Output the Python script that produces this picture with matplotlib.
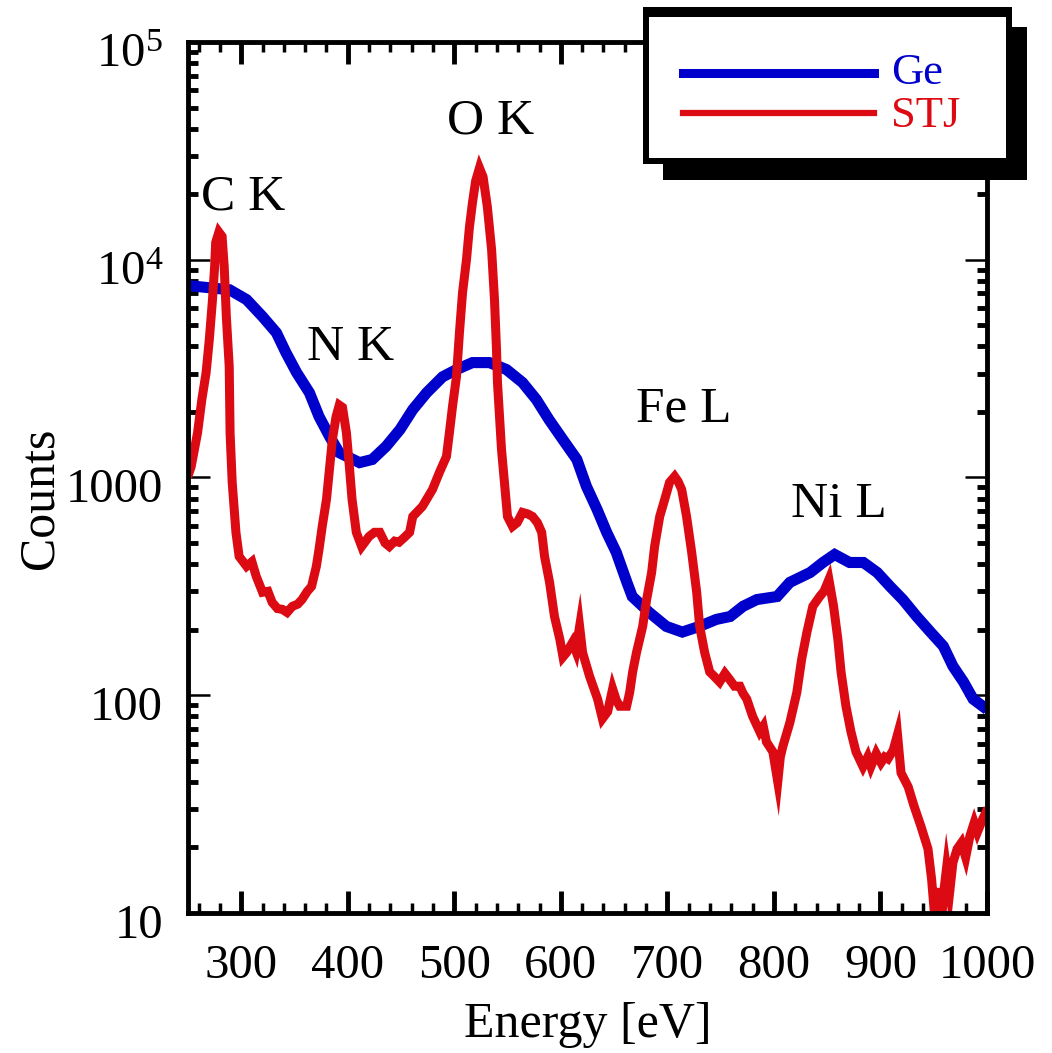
import numpy as np
import matplotlib
matplotlib.use("Agg")
import matplotlib.pyplot as plt
from matplotlib.patches import Rectangle
from matplotlib.lines import Line2D
from matplotlib.ticker import LogLocator, MultipleLocator, NullFormatter
import matplotlib.transforms as mtransforms

plt.rcParams["font.family"] = ["Liberation Serif", "DejaVu Serif"]
plt.rcParams["mathtext.fontset"] = "custom"
plt.rcParams["mathtext.rm"] = "Liberation Serif"

# Ge detector spectrum
ge_energy = [251, 289, 305, 320, 333, 342, 352, 364, 373, 383, 392, 411, 423, 436,
             449, 461, 474, 489, 502, 517, 533, 549, 564, 577, 589, 602, 615, 624,
             634, 643, 652, 662, 667, 683, 699, 714, 730, 746, 759, 771, 784, 803,
             815, 834, 846, 857, 871, 884, 897, 909, 921, 934, 947, 959, 968, 978,
             987, 996]
ge_counts = [7600, 7280, 6560, 5480, 4620, 3740, 3030, 2450, 1905, 1540, 1300, 1170,
             1210, 1390, 1660, 2050, 2450, 2900, 3130, 3370, 3370, 3130, 2730, 2280,
             1840, 1490, 1210, 910, 713, 560, 453, 330, 284, 240, 207, 195, 207, 223,
             230, 256, 275, 284, 330, 366, 407, 443, 407, 407, 366, 316, 275, 230,
             195, 168, 136, 115, 96, 89]

# STJ detector spectrum
stj_energy = [251, 253, 259, 263, 267, 270, 273, 275, 276, 279, 282, 284, 286, 288.7,
              289.5, 291.5, 295, 298, 305, 310, 314, 320, 325, 329, 334, 338.5, 343,
              348, 353, 357, 362, 366, 370.5, 373, 376, 380, 383, 385.5, 389, 392,
              395, 398.7, 401.5, 404, 408, 413, 420, 425, 430, 435, 439, 444, 448,
              453, 458, 461, 470, 479.5, 486, 492.6, 495.4, 498.3, 502, 504.8, 507.7,
              511.4, 514.2, 517, 520, 523.6, 527, 531, 535, 537.7, 539.6, 540.5,
              542.4, 544.3, 547.1, 549.9, 554.6, 559, 564, 569, 573.4, 578, 582,
              584.7, 589.4, 594, 599, 602, 605.4, 611, 614, 617.6, 620.4, 627, 634.5,
              639, 643.9, 648.6, 652, 655.2, 661.7, 664.6, 667.4, 671, 676.8, 680.5,
              685.2, 688, 692.8, 697.5, 702, 706.8, 710, 713.4, 718, 722.8, 727.5,
              730.3, 735, 739.7, 744, 749, 754, 758.5, 763, 768, 771, 774.5, 780,
              786.7, 790, 793, 799, 801, 803.6, 806, 808.3, 815, 821.5, 826, 831,
              836.5, 843, 847, 851.6, 856, 860, 863, 867.6, 872.3, 877, 883.6, 888,
              891, 896, 900.5, 904, 907, 912, 916, 919.3, 926, 931.5, 938, 944.6,
              948, 951, 953, 956, 959, 962, 965, 968, 972, 976, 980, 984, 988, 991,
              996, 999]
stj_counts = [1050, 1122, 1607, 2280, 3030, 4300, 6560, 9290, 12000, 13400, 12800,
              9290, 5480, 3230, 1607, 949, 560, 434, 391, 410, 352, 297, 300, 267,
              250, 248, 240, 256, 262, 275, 300, 316, 391, 468, 596, 793, 1122, 1490,
              1905, 2150, 2100, 1607, 1122, 793, 560, 482, 536, 560, 560, 500, 482,
              510, 504, 530, 560, 662, 736, 881, 1055, 1248, 1607, 2120, 2900, 4620,
              7060, 10000, 14150, 18240, 23000, 26400, 24000, 17500, 11110, 6560,
              3860, 2730, 1905, 1343, 949, 662, 596, 620, 691, 680, 662, 620, 560,
              434, 330, 230, 181, 150, 157, 175, 160, 207, 157, 122, 96, 78, 84, 107,
              95, 89, 89, 103, 128, 157, 207, 275, 366, 482, 662, 793, 949, 1011, 960,
              881, 662, 453, 297, 207, 157, 128, 122, 115, 126, 118, 110, 110, 102,
              96, 80, 68, 72, 61, 55, 48, 40, 52, 58, 75, 103, 146, 195, 256, 284,
              300, 340, 256, 181, 128, 89, 68, 55, 47, 52, 47, 54, 49, 52, 51, 56, 66,
              44, 38, 31, 25, 19.7, 14.3, 9.5, 13, 7.5, 12, 16, 12.5, 17, 19.7, 21,
              18, 22.6, 26, 23.5, 27, 29]

peak_labels = ["C K", "N K", "O K", "Fe L", "Ni L"]
peak_x = [302, 403, 534, 715, 861]
peak_y = [17100, 3470, 38200, 1815, 659]

ytick_values = [10, 100, 1000, 1e4, 1e5]
ytick_labels = ["10", "100", "1000", r"$\mathregular{10^{4}}$", r"$\mathregular{10^{5}}$"]
xtick_values = [300, 400, 500, 600, 700, 800, 900, 1000]

blue = "#0000cc"
red = "#dc0a12"

fig = plt.figure(figsize=(10.52, 10.53), dpi=100)
ax = fig.add_axes([0.1787, 0.1330, 0.7595, 0.8271])

ax.plot(ge_energy, ge_counts, color=blue, lw=8.0, solid_joinstyle="miter")
ax.plot(stj_energy, stj_counts, color=red, lw=6.5, solid_joinstyle="miter")

ax.set_yscale("log")
ax.set_xlim(250, 1000)
ax.set_ylim(10, 1e5)

ax.set_xticks(xtick_values)
ax.set_xticklabels([str(v) for v in xtick_values])
ax.xaxis.set_minor_locator(MultipleLocator(20))
ax.set_yticks(ytick_values)
ax.set_yticklabels(ytick_labels)
ax.yaxis.set_minor_locator(LogLocator(base=10, subs=np.arange(2, 10)))
ax.yaxis.set_minor_formatter(NullFormatter())

ax.tick_params(axis="both", which="both", direction="in", top=True, right=True,
               colors="black", labelsize=35)
ax.tick_params(axis="x", which="major", length=16, width=3.5, pad=22)
ax.tick_params(axis="x", which="minor", length=7, width=2.5)
ax.tick_params(axis="y", which="major", length=16, width=1.8, pad=18)
ax.tick_params(axis="y", which="minor", length=7, width=3.5)
for s in ax.spines.values():
    s.set_linewidth(3.5)

# nudge the y labels down a little
shift = mtransforms.ScaledTranslation(0, -8 / 100, fig.dpi_scale_trans)
for lab in ax.get_yticklabels():
    lab.set_transform(lab.get_transform() + shift)

ax.set_xlabel("Energy [eV]", fontsize=36, labelpad=10)
fig.text(0.038, 0.527, "Counts", rotation=90, fontsize=36, ha="center", va="center")

for lab, x, y in zip(peak_labels, peak_x, peak_y):
    ax.text(x, y, lab, fontsize=37, ha="center", va="baseline")

# legend box with drop shadow, drawn in pixel-based figure coords
W, H = 1052, 1053
def fig_rect(x0, y0, x1, y1, **kw):
    return Rectangle((x0 / W, 1 - y1 / H), (x1 - x0) / W, (y1 - y0) / H,
                     transform=fig.transFigure, **kw)

fig.add_artist(fig_rect(663, 27, 1027, 180, facecolor="black", edgecolor="none", zorder=10))
fig.add_artist(fig_rect(643, 7, 1012, 164, facecolor="black", edgecolor="none", zorder=11))
fig.add_artist(fig_rect(649, 17, 1006, 158, facecolor="white", edgecolor="none", zorder=12))
fig.add_artist(Line2D([683 / W, 874 / W], [1 - 73 / H, 1 - 73 / H], color=blue, lw=6.5,
                      transform=fig.transFigure, zorder=13))
fig.add_artist(Line2D([683 / W, 874 / W], [1 - 113 / H, 1 - 113 / H], color=red, lw=4.5,
                      transform=fig.transFigure, zorder=13))
fig.text(891 / W, 1 - 84 / H, "Ge", color=blue, fontsize=32, va="baseline", zorder=14)
fig.text(891 / W, 1 - 127 / H, "STJ", color=red, fontsize=32, va="baseline", zorder=14)

fig.savefig("out.png", dpi=100)
